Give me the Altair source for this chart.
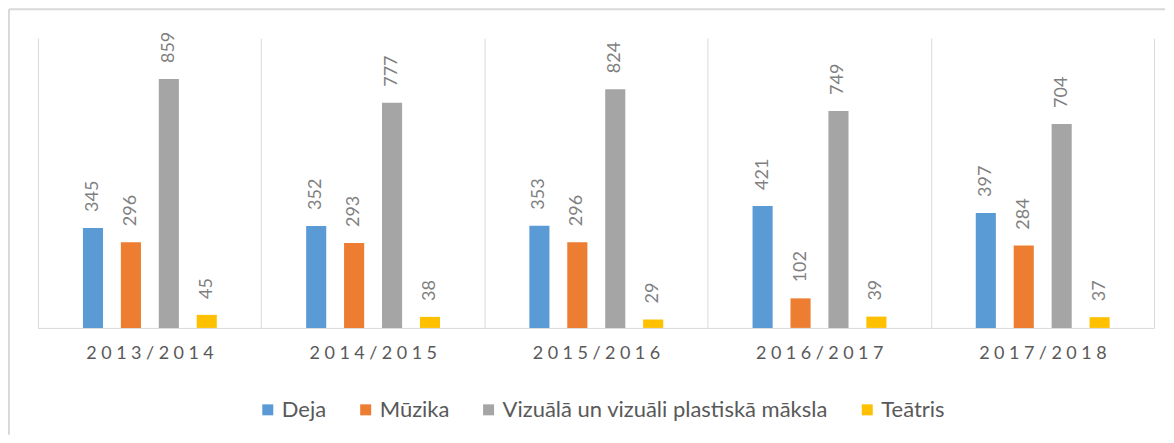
import altair as alt
import pandas as pd

years = ["2013/2014", "2014/2015", "2015/2016", "2016/2017", "2017/2018"]
series = ["Deja", "Mūzika", "Vizuālā un vizuāli plastiskā māksla", "Teātris"]
colors = ["#5B9BD5", "#ED7D31", "#A5A5A5", "#FFC000"]

deja = [345, 352, 353, 421, 397]
muzika = [296, 293, 296, 102, 284]
vizuala = [859, 777, 824, 749, 704]
teatris = [45, 38, 29, 39, 37]

rows = []
for i, y in enumerate(years):
    for s, vals in zip(series, [deja, muzika, vizuala, teatris]):
        rows.append({"year": y, "series": s, "value": vals[i]})
df = pd.DataFrame(rows)

W, H = 1117, 290
FONT = "Lato"

x_enc = alt.X(
    "year:N",
    sort=years,
    title=None,
    scale=alt.Scale(paddingInner=0, paddingOuter=0),
    axis=alt.Axis(
        labelAngle=0,
        ticks=False,
        grid=True,
        tickBand="extent",
        gridColor="#d9d9d9",
        domainColor="#d9d9d9",
        labelColor="#595959",
        labelFont=FONT,
        labelFontSize=18,
        labelPadding=17,
        labelExpr="join(split(datum.label, ''), '\u2009\u2009')",
    ),
)
off_scale = alt.Scale(paddingInner=0.47, paddingOuter=0, range=[45, 179])
xoff = alt.XOffset("series:N", sort=series, scale=off_scale)
y_enc = alt.Y("value:Q", scale=alt.Scale(domain=[0, 1000]), axis=None)

bars = alt.Chart(df).mark_bar().encode(
    x=x_enc,
    xOffset=xoff,
    y=y_enc,
    color=alt.Color(
        "series:N",
        sort=series,
        scale=alt.Scale(domain=series, range=colors),
        legend=alt.Legend(
            title=None,
            orient="none",
            direction="horizontal",
            legendX=219,
            legendY=361,
            symbolType="square",
            symbolSize=121,
            symbolStrokeWidth=0,
            labelColor="#595959",
            labelFont=FONT,
            labelFontSize=22,
            labelLimit=0,
            labelOffset=3,
            columnPadding=28,
        ),
    ),
)

labels = alt.Chart(df).mark_text(
    angle=270, align="left", baseline="middle", dx=16,
    font=FONT, fontSize=18, color="#7f7f7f",
).encode(
    x=alt.X("year:N", sort=years),
    xOffset=alt.XOffset("series:N", sort=series),
    y="value:Q",
    text="value:Q",
)

frame_df = pd.DataFrame({"k": [0]})
left_line = alt.Chart(frame_df).mark_rule(color="#d9d9d9", strokeWidth=2).encode(
    x=alt.value(-29), y=alt.value(-29), y2=alt.value(397)
)
top_line = alt.Chart(frame_df).mark_rule(color="#d9d9d9", strokeWidth=2).encode(
    x=alt.value(-29), x2=alt.value(1128), y=alt.value(-29)
)

chart = alt.layer(left_line, top_line, bars, labels).properties(
    width=W, height=H, padding=0
).configure_view(stroke=None)

chart.save("out.html", embed_options={"renderer": "svg", "actions": False})
